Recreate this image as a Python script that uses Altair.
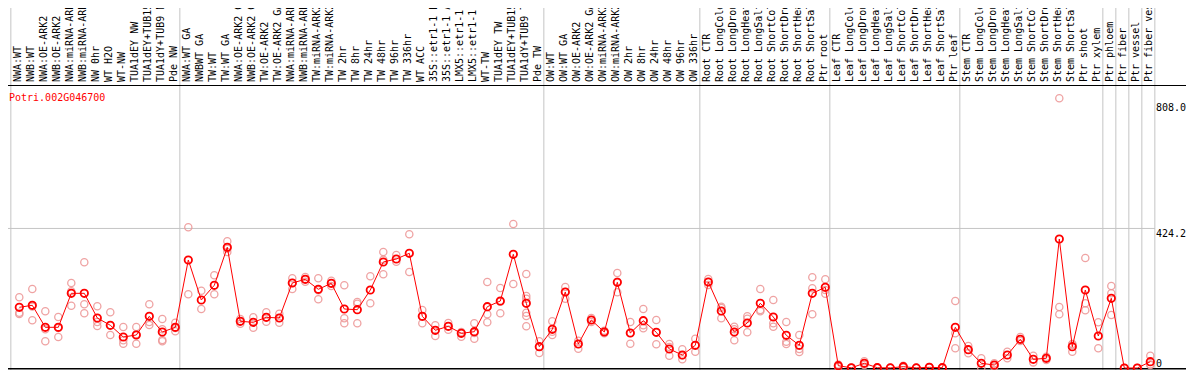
import altair as alt
import pandas as pd

# ---------------- data ----------------
title_text = ["Potri.002G046700"]

categories = [
    "NWA:WT", "NWB:WT", "NWA:OE-ARK2", "NWB:OE-ARK2", "NWA:miRNA-ARK2", "NWB:miRNA-ARK2",
    "NW 0hr", "WT H2O", "WT-NW", "TUA1dEY NW", "TUA1dEY+TUB15 NW", "TUA1dY+TUB9 NW", "Pde NW",
    "NWA:WT GA", "NWBWT GA", "TW:WT", "TW:WT GA", "NWA:OE-ARK2 GA", "NWB:OE-ARK2 GA",
    "TW:OE-ARK2", "TW:OE-ARK2 GA", "NWA:miRNA-ARK2 GA", "NWB:miRNA-ARK2 GA", "TW:miRNA-ARK2",
    "TW:miRNA-ARK2 GA", "TW 2hr", "TW 8hr", "TW 24hr", "TW 48hr", "TW 96hr", "TW 336hr",
    "WT ACC", "35S::etr1-1 H2O", "35S::etr1-1 ACC", "LMX5::etr1-1 H2O", "LMX5::etr1-1 ACC",
    "WT-TW", "TUA1dEY TW", "TUA1dEY+TUB15 TW", "TUA1dY+TUB9 TW", "Pde TW",
    "OW:WT", "OW:WT GA", "OW:OE-ARK2", "OW:OE-ARK2 GA", "OW:miRNA-ARK2", "OW:miRNA-ARK2 GA",
    "OW 2hr", "OW 8hr", "OW 24hr", "OW 48hr", "OW 96hr", "OW 336hr",
    "Root CTR", "Root LongCold", "Root LongDrought", "Root LongHeat", "Root LongSalt",
    "Root ShortCold", "Root ShortDrought", "Root ShortHeat", "Root ShortSalt", "Ptr root",
    "Leaf CTR", "Leaf LongCold", "Leaf LongDrought", "Leaf LongHeat", "Leaf LongSalt",
    "Leaf ShortCold", "Leaf ShortDrought", "Leaf ShortHeat", "Leaf ShortSalt", "Ptr leaf",
    "Stem CTR", "Stem LongCold", "Stem LongDrought", "Stem LongHeat", "Stem LongSalt",
    "Stem ShortCold", "Stem ShortDrought", "Stem ShortHeat", "Stem ShortSalt", "Ptr shoot",
    "Ptr xylem", "Ptr phloem", "Ptr fiber", "Ptr vessel", "Ptr fiber vessel",
]

means = [
    184.5, 190.6, 123.7, 123.7, 227.0, 227.0, 152.0, 129.8, 94.2, 100.3, 157.1, 109.4, 123.7,
    328.3, 206.7, 251.4, 366.9, 141.9, 138.9, 154.1, 152.0, 258.4, 269.6, 239.2, 257.4,
    179.3, 177.2, 237.1, 322.2, 331.3, 348.6, 157.1, 114.6, 126.7, 105.5, 110.3, 186.3,
    203.6, 345.6, 196.7, 64.7,
    117.6, 231.0, 72.9, 145.9, 109.4, 260.5, 106.4, 143.8, 108.5, 57.8, 39.5, 69.0,
    261.4, 173.3, 109.4, 136.8, 196.7, 155.0, 99.4, 69.0, 227.0, 245.3,
    7.0, 0.5, 14.3, 0.9, 0.3, 4.0, 0.3, 2.1, 0.9, 123.7,
    55.6, 14.3, 9.1, 39.5, 87.2, 26.4, 29.5, 392.1, 64.7, 237.1, 97.3,
    211.9, 0.0, 0.0, 19.1,
]

replicates = [
    [214.9, 168.1, 164.1], [240.1, 186.6, 145.0], [172.3, 117.6, 81.2], [155.0, 121.6, 94.2],
    [258.4, 233.1, 189.4], [321.3, 193.6, 166.3], [187.5, 139.8, 127.7], [169.3, 129.8, 100.3],
    [124.6, 84.2, 73.9], [124.6, 102.4, 73.9], [193.6, 139.8, 130.7], [148.9, 117.6, 85.1, 81.2],
    [137.7, 121.6, 111.5],
    [427.7, 224.0], [235.0, 179.3], [281.8, 224.0], [385.1, 362.6, 352.6], [148.9, 141.9, 134.7],
    [154.1, 138.9, 122.5], [169.3, 154.1, 140.7], [165.0, 152.0, 137.7], [272.6, 258.4, 240.1],
    [276.6, 269.6, 262.3], [272.6, 236.2, 208.8], [265.4, 257.4, 249.2], [251.4, 151.1, 135.9],
    [200.6, 195.4, 135.9], [278.7, 196.7], [352.6, 329.2, 284.8], [343.5, 323.1], [406.4, 291.8],
    [176.3, 157.1, 135.9], [129.8, 114.6, 97.3], [136.8, 126.7, 116.4], [109.4, 105.5, 95.1],
    [135.9, 106.4, 89.1], [261.4, 163.2, 138.9], [243.2, 201.5, 166.3], [437.7, 255.3],
    [285.7, 218.8, 210.6, 168.1, 158.1, 126.7], [81.2, 64.7, 45.6],
    [141.9, 110.3, 100.3], [246.2, 231.0, 210.6], [83.0, 72.9, 58.7], [152.0, 145.9, 139.8],
    [113.4, 109.4, 105.5], [288.8, 262.3, 230.1], [139.8, 106.4, 73.9], [179.3, 129.8, 120.7],
    [145.9, 108.5, 72.0], [72.9, 63.8, 37.4], [56.8, 38.6, 26.4], [89.1, 69.0, 49.5],
    [270.5, 261.4, 252.3], [186.3, 182.4, 151.1], [125.5, 117.6, 84.2], [157.1, 149.8, 108.5],
    [240.1, 176.3, 172.3], [206.7, 135.9, 125.5], [139.8, 79.9, 72.9], [100.3, 57.8, 48.6],
    [275.7, 242.2, 163.2], [269.6, 237.1, 225.8],
    [10.6, 6.1, 3.0], [0.8, 0.5, 0.3], [20.4, 14.3, 9.1], [1.3, 0.9, 0.5], [0.4, 0.3, 0.2],
    [7.0, 4.0, 0.9], [0.4, 0.3, 0.2], [2.7, 2.1, 1.5], [1.3, 0.9, 0.5], [203.6, 105.5, 59.9],
    [66.9, 55.6, 44.7], [29.5, 0.0], [14.3, 4.0], [49.5, 29.5], [94.2, 87.2, 82.1],
    [37.4, 17.0], [34.3, 24.3], [819.8, 185.4, 163.2], [72.9, 72.0, 49.5], [334.3, 196.7, 175.4],
    [138.9, 59.9],
    [249.2, 227.0, 161.1], [0.0, 0.0], [0.0, 0.0], [37.4, 11.0, 9.1],
]

# index of the last category of each group (group separators), -1 = left edge
group_ends = [-1, 12, 40, 52, 62, 72, 83, 84, 85, 86, 87]

tick_values = [808.0, 424.2]
tick_labels = ["808.0", "424.2"]
zero_value = [0.0]
zero_label = ["0"]
grid_values = [424.2]

# ---------------- layout ----------------
W, H = 1194, 370
X0, DX = 19.3, 13.0          # pixel of first category, spacing
Y0, K = 368.0, 0.329         # pixel of value 0, px per unit
MONO = "DejaVu Sans Mono"
RED = "#ff0000"
PINK = "#ee9a9a"
GRID = "#c4c4c4"
LABEL_X = 1156

xscale = alt.Scale(domain=[(0 - X0) / DX, (W - X0) / DX], zero=False, nice=False)
yscale = alt.Scale(domain=[(Y0 - H) / K, Y0 / K], zero=False, nice=False)

mean_df = pd.DataFrame({"idx": list(range(len(means))), "value": means, "label": categories})
rep_rows = []
for i, vals in enumerate(replicates):
    for v in vals:
        rep_rows.append({"idx": i, "value": v})
rep_df = pd.DataFrame(rep_rows)
sep_df = pd.DataFrame({"pos": [g + 0.35 for g in group_ends]})
tick_df = pd.DataFrame({"value": tick_values, "label": tick_labels})
zero_df = pd.DataFrame({"value": zero_value, "label": zero_label})
hgrid_df = pd.DataFrame({"value": grid_values})
title_df = pd.DataFrame({"t": title_text})
one = pd.DataFrame({"a": [0]})

X = lambda f: alt.X(f, type="quantitative", scale=xscale, axis=None)
Y = lambda f: alt.Y(f, type="quantitative", scale=yscale, axis=None)

vgrid = alt.Chart(sep_df).mark_rule(color=GRID, strokeWidth=1).encode(
    x=X("pos"), y=alt.value(0), y2=alt.value(H))
hgrid = alt.Chart(hgrid_df).mark_rule(color=GRID, strokeWidth=1).encode(
    y=Y("value"), x=alt.value(0), x2=alt.value(LABEL_X - 1))
header_line = alt.Chart(one).mark_rule(color="black", strokeWidth=1).encode(
    y=alt.value(85.5), x=alt.value(0), x2=alt.value(W))
bottom_line = alt.Chart(one).mark_rule(color="black", strokeWidth=1.5).encode(
    y=alt.value(368.8), x=alt.value(0), x2=alt.value(W))

reps = alt.Chart(rep_df).mark_point(shape="circle", size=52, filled=False,
                                    color=PINK, strokeWidth=1.3, opacity=0.9).encode(
    x=X("idx"), y=Y("value"))
line = alt.Chart(mean_df).mark_line(color=RED, strokeWidth=1).encode(
    x=X("idx"), y=Y("value"), order="idx:Q")
mean_pts = alt.Chart(mean_df).mark_point(shape="circle", size=55, filled=False,
                                         color=RED, strokeWidth=1.8, opacity=1).encode(
    x=X("idx"), y=Y("value"))

labels = alt.Chart(mean_df).mark_text(angle=270, align="left", baseline="middle",
                                      font=MONO, fontSize=10, color="black", dy=-1.5).encode(
    x=X("idx"), y=alt.value(82), text="label:N")
title = alt.Chart(title_df).mark_text(align="left", baseline="top", font=MONO,
                                      fontSize=10, color=RED).encode(
    x=alt.value(9), y=alt.value(92.5), text="t:N")
ticks = alt.Chart(tick_df).mark_text(align="left", baseline="top", font=MONO,
                                     fontSize=10, color="black", dy=0.5).encode(
    x=alt.value(LABEL_X), y=Y("value"), text="label:N")
zero_tick = alt.Chart(zero_df).mark_text(align="left", baseline="top", font=MONO,
                                         fontSize=10, color="black", dy=-9.5).encode(
    x=alt.value(LABEL_X), y=Y("value"), text="label:N")

chart = alt.layer(
    vgrid, hgrid, header_line, bottom_line, reps, line, mean_pts, labels, title, ticks, zero_tick
).properties(
    width=W, height=H,
    padding={"left": -8, "top": -8, "right": -8, "bottom": 0},
    autosize=alt.AutoSizeParams(type="none"),
    background="white",
).configure_view(strokeWidth=0)

chart.save("out.html", embed_options={"renderer": "svg", "actions": False})
